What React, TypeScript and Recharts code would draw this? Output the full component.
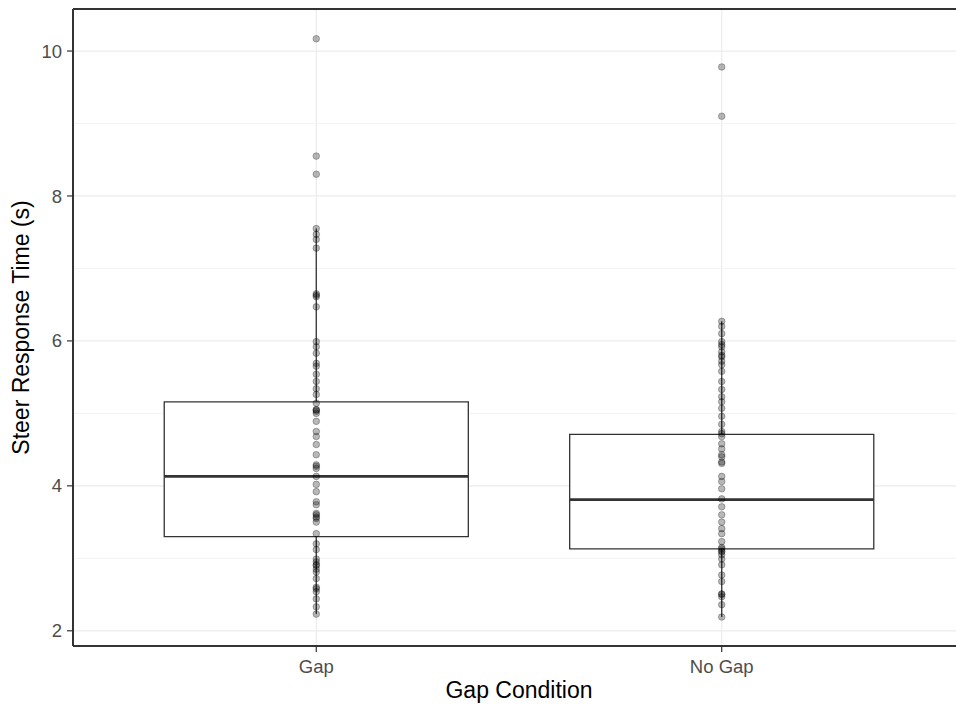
import React from "react";
import {
  ScatterChart,
  Scatter,
  XAxis,
  YAxis,
  CartesianGrid,
  ReferenceArea,
  ReferenceLine,
  Label,
} from "recharts";

const categories = ["Gap", "No Gap"];
const yTicks = [2, 4, 6, 8, 10];
const yMinor = [3, 5, 7, 9];

// box statistics per category
const q1 = [3.3, 3.13];
const median = [4.13, 3.81];
const q3 = [5.16, 4.71];
const whiskerLow = [2.23, 2.19];
const whiskerHigh = [7.55, 6.27];

const gapValues = [
  10.17, 8.55, 8.3, 7.55, 7.47, 7.4, 7.28, 6.65, 6.63, 6.61, 6.47, 5.99, 5.92,
  5.83, 5.69, 5.65, 5.54, 5.44, 5.34, 5.26, 5.14, 5.05, 5.05, 5.03, 5.0, 4.89,
  4.75, 4.68, 4.57, 4.43, 4.29, 4.27, 4.24, 4.13, 4.02, 3.92, 3.78, 3.74, 3.62,
  3.6, 3.57, 3.55, 3.5, 3.34, 3.2, 3.12, 2.99, 2.95, 2.91, 2.9, 2.85, 2.81,
  2.72, 2.6, 2.58, 2.54, 2.44, 2.33, 2.23,
];
const noGapValues = [
  9.78, 9.1, 6.27, 6.2, 6.1, 5.99, 5.95, 5.92, 5.85, 5.8, 5.78, 5.72, 5.67,
  5.58, 5.44, 5.33, 5.23, 5.16, 5.07, 4.96, 4.85, 4.75, 4.72, 4.68, 4.58, 4.51,
  4.43, 4.4, 4.33, 4.31, 4.13, 4.06, 3.96, 3.82, 3.71, 3.6, 3.5, 3.41, 3.34,
  3.23, 3.15, 3.13, 3.1, 3.09, 3.05, 2.99, 2.91, 2.77, 2.68, 2.51, 2.5, 2.47,
  2.36, 2.19,
];

const points = [
  ...gapValues.map((v) => ({ x: 1, y: v })),
  ...noGapValues.map((v) => ({ x: 2, y: v })),
];

const X_DOMAIN: [number, number] = [0.4, 2.6];
const Y_DOMAIN: [number, number] = [1.79, 10.58];
const BOX_HALF = 0.375;
const FONT = "'Liberation Sans', Arial, sans-serif";

const Dot = (props: any) => (
  <circle
    cx={props.cx}
    cy={props.cy}
    r={3.3}
    fill="#000"
    fillOpacity={0.28}
    stroke="#000"
    strokeOpacity={0.28}
    strokeWidth={1}
  />
);

export default function App() {
  return (
    <div
      style={{
        position: "fixed",
        left: 0,
        top: 0,
        width: 956,
        height: 712,
        overflow: "hidden",
        background: "#fff",
      }}
    >
      <ScatterChart
        width={980}
        height={712}
        margin={{ top: 9, right: 15, bottom: 0, left: 0 }}
        style={{ fontFamily: FONT }}
      >
        <CartesianGrid stroke="#ebebeb" strokeWidth={1.2} />
        {yMinor.map((v) => (
          <ReferenceLine
            key={"m" + v}
            y={v}
            stroke="#f3f3f3"
            strokeWidth={1}
            zIndex={-90}
          />
        ))}
        <XAxis
          type="number"
          dataKey="x"
          domain={X_DOMAIN}
          allowDataOverflow
          ticks={[1, 2]}
          tickFormatter={(v: number) => categories[v - 1]}
          height={66}
          tickSize={6}
          tickMargin={8}
          axisLine={false}
          tickLine={{ stroke: "#333", strokeWidth: 1.2 }}
          tick={{ fill: "#4d4d4d", fontSize: 18.5, fontFamily: FONT }}
        >
          <Label
            content={({ viewBox }: any) => (
              <text
                x={viewBox.x + viewBox.width / 2}
                y={698}
                textAnchor="middle"
                fontSize={23}
                fill="#000"
                fontFamily={FONT}
              >
                Gap Condition
              </text>
            )}
          />
        </XAxis>
        <YAxis
          type="number"
          dataKey="y"
          domain={Y_DOMAIN}
          allowDataOverflow
          ticks={yTicks}
          width={73}
          tickSize={6}
          tickMargin={5}
          axisLine={false}
          tickLine={{ stroke: "#333", strokeWidth: 1.2 }}
          tick={{ fill: "#4d4d4d", fontSize: 18.5, fontFamily: FONT }}
        >
          <Label
            content={({ viewBox }: any) => {
              const cy = viewBox.y + viewBox.height / 2;
              return (
                <text
                  x={29}
                  y={cy}
                  transform={`rotate(-90, 29, ${cy})`}
                  textAnchor="middle"
                  fontSize={23}
                  fill="#000"
                  fontFamily={FONT}
                >
                  Steer Response Time (s)
                </text>
              );
            }}
          />
        </YAxis>
        {categories.map((c, i) => (
          <ReferenceArea
            key={"box" + c}
            x1={i + 1 - BOX_HALF}
            x2={i + 1 + BOX_HALF}
            y1={q1[i]}
            y2={q3[i]}
            fill="#fff"
            fillOpacity={1}
            stroke="#333"
            strokeWidth={1.3}
            zIndex={100}
          />
        ))}
        {categories.map((c, i) => (
          <ReferenceLine
            key={"wh" + c}
            segment={[
              { x: i + 1, y: q3[i] },
              { x: i + 1, y: whiskerHigh[i] },
            ]}
            stroke="#333"
            strokeWidth={1.3}
            zIndex={200}
          />
        ))}
        {categories.map((c, i) => (
          <ReferenceLine
            key={"wl" + c}
            segment={[
              { x: i + 1, y: whiskerLow[i] },
              { x: i + 1, y: q1[i] },
            ]}
            stroke="#333"
            strokeWidth={1.3}
            zIndex={200}
          />
        ))}
        {categories.map((c, i) => (
          <ReferenceLine
            key={"med" + c}
            segment={[
              { x: i + 1 - BOX_HALF, y: median[i] },
              { x: i + 1 + BOX_HALF, y: median[i] },
            ]}
            stroke="#333"
            strokeWidth={2.6}
            zIndex={200}
          />
        ))}
        <Scatter
          data={points}
          dataKey="y"
          shape={Dot}
          isAnimationActive={false}
          zIndex={600}
        />
        <ReferenceLine
          y={Y_DOMAIN[1]}
          stroke="#333"
          strokeWidth={2}
          zIndex={700}
        />
        <ReferenceLine
          y={Y_DOMAIN[0]}
          stroke="#333"
          strokeWidth={2}
          zIndex={700}
        />
        <ReferenceLine
          x={X_DOMAIN[0]}
          stroke="#333"
          strokeWidth={2}
          zIndex={700}
        />
      </ScatterChart>
    </div>
  );
}
